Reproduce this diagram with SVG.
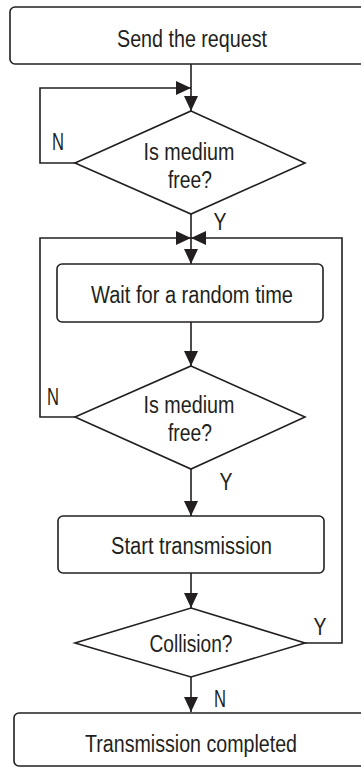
<svg xmlns="http://www.w3.org/2000/svg" width="361" height="767" viewBox="0 0 361 767">
<style>
.box{fill:#fff;stroke:#231f20;stroke-width:1.6}
.con{fill:none;stroke:#231f20;stroke-width:1.6}
.t{font-family:"Liberation Sans Narrow","Liberation Sans",Arial,sans-serif;font-size:23px;fill:#231f20;text-anchor:middle}
</style>
<defs>
<marker id="ah" markerUnits="userSpaceOnUse" markerWidth="16" markerHeight="14" viewBox="0 0 16 14" refX="15" refY="7" orient="auto">
<path d="M0,0 L15,7 L0,14 Z" fill="#231f20"/>
</marker>
</defs>
<rect width="361" height="767" fill="#fff"/>
<g id="connectors">
<path class="con" d="M191,64 V111" marker-end="url(#ah)"/>
<path class="con" d="M75,163 H40 V88 H191" marker-end="url(#ah)"/>
<path class="con" d="M191,214 V264" marker-end="url(#ah)"/>
<path class="con" d="M75,417 H40 V238 H191" marker-end="url(#ah)"/>
<path class="con" d="M305,643 H342 V238 H191" marker-end="url(#ah)"/>
<path class="con" d="M191,322 V366" marker-end="url(#ah)"/>
<path class="con" d="M191,469 V516" marker-end="url(#ah)"/>
<path class="con" d="M191,573 V608" marker-end="url(#ah)"/>
<path class="con" d="M191,677 V712" marker-end="url(#ah)"/>
<text class="t" x="58" y="150" textLength="12" lengthAdjust="spacingAndGlyphs">N</text>
<text class="t" x="220" y="230" textLength="13" lengthAdjust="spacingAndGlyphs">Y</text>
<text class="t" x="53" y="405" textLength="12" lengthAdjust="spacingAndGlyphs">N</text>
<text class="t" x="226" y="490" textLength="13" lengthAdjust="spacingAndGlyphs">Y</text>
<text class="t" x="320" y="635" textLength="13" lengthAdjust="spacingAndGlyphs">Y</text>
<text class="t" x="220" y="707" textLength="12" lengthAdjust="spacingAndGlyphs">N</text>
</g>
<g id="start">
<rect class="box" x="10" y="7" width="362" height="57" rx="5"/>
<text class="t" x="192" y="46.5" textLength="150" lengthAdjust="spacingAndGlyphs">Send the request</text>
</g>
<g id="check1">
<polygon class="box" points="191,111 305,163 191,214 75,163"/>
<text class="t" x="189" y="159.5" textLength="91" lengthAdjust="spacingAndGlyphs">Is medium</text>
<text class="t" x="190" y="187.5" textLength="44" lengthAdjust="spacingAndGlyphs">free?</text>
</g>
<g id="wait">
<rect class="box" x="57" y="264" width="266" height="58" rx="5"/>
<text class="t" x="192" y="303" textLength="202" lengthAdjust="spacingAndGlyphs">Wait for a random time</text>
</g>
<g id="check2">
<polygon class="box" points="191,366 305,417 191,469 75,417"/>
<text class="t" x="189" y="413" textLength="91" lengthAdjust="spacingAndGlyphs">Is medium</text>
<text class="t" x="190" y="441" textLength="44" lengthAdjust="spacingAndGlyphs">free?</text>
</g>
<g id="transmit">
<rect class="box" x="58" y="516" width="266" height="57" rx="5"/>
<text class="t" x="191.5" y="553.5" textLength="161" lengthAdjust="spacingAndGlyphs">Start transmission</text>
</g>
<g id="collision">
<polygon class="box" points="191,608 305,643 191,677 75,643"/>
<text class="t" x="191" y="652" textLength="83" lengthAdjust="spacingAndGlyphs">Collision?</text>
</g>
<g id="done">
<rect class="box" x="14" y="713" width="356" height="53" rx="5"/>
<text class="t" x="191" y="752" textLength="212" lengthAdjust="spacingAndGlyphs">Transmission completed</text>
</g>
</svg>
